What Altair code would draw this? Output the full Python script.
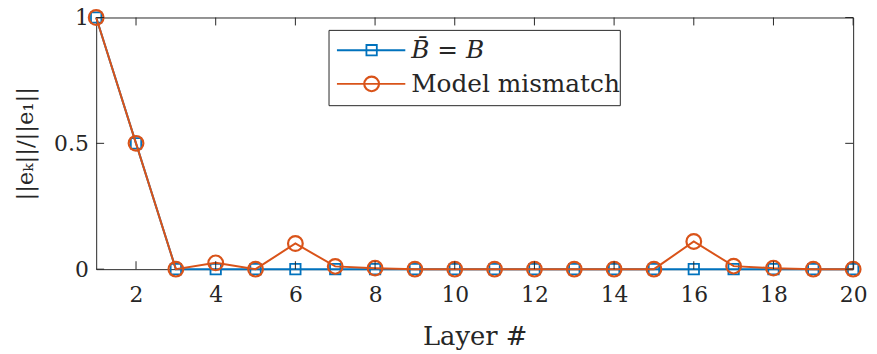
import altair as alt
import pandas as pd

layers = list(range(1, 21))
matched = [1.0, 0.5] + [0.0] * 18
mismatch = [1.0, 0.5, 0.0, 0.025, 0.0, 0.102, 0.011, 0.004, 0.0, 0.0,
            0.0, 0.0, 0.0, 0.0, 0.0, 0.110, 0.012, 0.004, 0.0, 0.0]
series_names = ["B\u0304 = B", "Model mismatch"]
colors = ["#0072BD", "#D95319"]
x_ticks = [2, 4, 6, 8, 10, 12, 14, 16, 18, 20]
y_ticks = [0, 0.5, 1]

W, H = 764, 254
FONT = "DejaVu Serif"
FS = 22
AX = "#262626"

df = pd.DataFrame({
    "layer": layers * 2,
    "value": matched + mismatch,
    "series": [series_names[0]] * 20 + [series_names[1]] * 20,
})

xs = alt.Scale(domain=[1, 20], nice=False, zero=False)
ys = alt.Scale(domain=[0, 1], nice=False)

xaxis = alt.Axis(values=x_ticks, title="Layer #", domain=False, ticks=False, grid=False,
                 labelFont=FONT, labelFontSize=FS, labelColor=AX, labelPadding=16,
                 labelFlush=False,
                 titleFont=FONT, titleFontSize=26, titleColor=AX, titleFontWeight="normal",
                 titleY=68, titleBaseline="middle")
yaxis = alt.Axis(values=y_ticks, format="~g", title="||eₖ||/||e₁||", domain=False,
                 ticks=False, grid=False,
                 labelFont=FONT, labelFontSize=FS, labelColor=AX, labelPadding=8,
                 titleFont=FONT, titleFontSize=23, titleColor=AX, titleFontWeight="normal",
                 titleX=-71, titleY=127, titleAngle=-90, titleAlign="center",
                 titleBaseline="middle", labelFlush=False)


def series_layers(i, shape, size, sw):
    d = df[df["series"] == series_names[i]]
    base = alt.Chart(d).encode(
        x=alt.X("layer:Q", scale=xs, axis=xaxis),
        y=alt.Y("value:Q", scale=ys, axis=yaxis),
    )
    line = base.mark_line(color=colors[i], strokeWidth=2)
    pts = base.mark_point(shape=shape, size=size, filled=False, color=colors[i],
                          strokeWidth=sw, opacity=1)
    return [line, pts]


blue = series_layers(0, "square", 110, 1.8)
orange = series_layers(1, "circle", 220, 2.2)

xt = pd.DataFrame({"layer": x_ticks})
yt = pd.DataFrame({"value": y_ticks})
tick_layers = []
for y0, y1 in [(H, H - 8), (0, 8)]:
    tick_layers.append(alt.Chart(xt).mark_rule(color=AX, strokeWidth=1).encode(
        x=alt.X("layer:Q", scale=xs, axis=xaxis), y=alt.value(y0), y2=alt.value(y1)))
for x0, x1 in [(0, 8), (W, W - 8)]:
    tick_layers.append(alt.Chart(yt).mark_rule(color=AX, strokeWidth=1).encode(
        y=alt.Y("value:Q", scale=ys, axis=yaxis), x=alt.value(x0), x2=alt.value(x1)))

# legend
one = pd.DataFrame({"a": [0]})
leg = [alt.Chart(one).mark_rect(fill="white", stroke=AX, strokeWidth=1).encode(
    x=alt.value(235), x2=alt.value(529), y=alt.value(13), y2=alt.value(89))]
rows = [33, 67]
shapes = [("square", 110, 1.8), ("circle", 220, 2.2)]
for i, ry in enumerate(rows):
    leg.append(alt.Chart(one).mark_rule(color=colors[i], strokeWidth=2).encode(
        x=alt.value(243), x2=alt.value(312), y=alt.value(ry)))
    leg.append(alt.Chart(one).mark_point(shape=shapes[i][0], size=shapes[i][1], filled=False,
                                         color=colors[i], strokeWidth=shapes[i][2], opacity=1).encode(
        x=alt.value(278), y=alt.value(ry)))
    leg.append(alt.Chart(pd.DataFrame({"label": [series_names[i]]})).mark_text(
        align="left", baseline="middle", font=FONT, fontSize=25, color=AX,
        fontStyle="italic" if i == 0 else "normal").encode(
        x=alt.value(318), y=alt.value(ry), text="label:N"))

chart = alt.layer(*blue, *orange, *tick_layers, *leg).properties(
    width=W, height=H,
    background="white",
    autosize=alt.AutoSizeParams(type="none"),
    padding={"left": 89, "top": 8, "right": 16, "bottom": 80},
).configure_view(stroke=AX, strokeWidth=1)

chart.save("out.html", embed_options={"renderer": "svg", "actions": False})
